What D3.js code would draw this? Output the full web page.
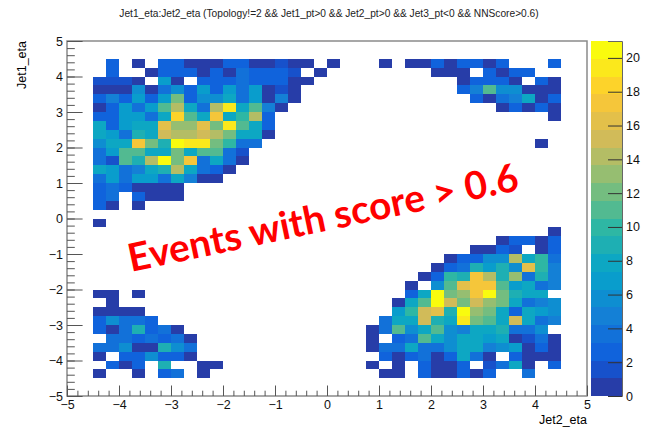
<!DOCTYPE html>
<html>
<head>
<meta charset="utf-8">
<script src="https://cdn.jsdelivr.net/npm/d3@7"></script>
<style>
body { margin: 0; background: #fff; }
text { font-family: "Liberation Sans", Arial, sans-serif; }
</style>
</head>
<body>
<div id="chart"></div>
<script>
var width = 654,
    height = 438;

// 40 x 40 bins, 0.25 wide, from -5 to 5 on both axes
// rows run from Jet1_eta = 5 (top) down to -5, columns from Jet2_eta = -5 to 5
// '.' = empty, 1..9, a = 10, b = 11 ... l = 21
var counts = [
    ".......... .......... .......... ..........",
    ".......... .......... .......... ..........",
    "...3.1.331 113311211. 1...1.1131 3313...3..",
    "...3..1333 13143332.1 ........11 1.3133....",
    "..2221.71. 333433311. .......... 13331.31..",
    "..11161463 73747121.. .......... 35b66111..",
    "..353737c3 66847151.. .......... .3145813..",
    "..13747be8 4ej8b51... .......... ...13131..",
    "..337748ib 8h8ae3.... .......... .......1..",
    "..83788gdd gcjb83.... .......... ..........",
    "..87498fee fec881.... .......... ..........",
    "..688hc9lj jca44..... .......... ......1...",
    "..47bb88c8 bb42...... .......... ..........",
    "..42b9ekch 4841...... .......... ..........",
    "..874589e8 431....... .......... ..........",
    "..47477485 11........ .......... ..........",
    "..3431111. .......... .......... ..........",
    "..34.3111. .......... .......... ..........",
    "..31.1.... .......... .......... ..........",
    ".......... .......... .......... ..........",
    "..1....... .......... .......... ..........",
    ".......... .......... .......... .......1..",
    ".......... .......... .......... ...13313..",
    ".......... .......... .......... .1132.13..",
    ".......... .......... .........1 3366e8a4..",
    ".......... .......... ........13 49796ga5..",
    ".......... .......... .......13a 9he9d495..",
    ".......... .......... ......1.6b ghhb7845..",
    "..11.1.... .......... ......38kc dhlc988...",
    "...1...... .......... .....18bkf cfdc8456..",
    "..1111.... .......... .....7afg9 kdc83876..",
    "..36443... .......... ....488f98 jcb8f845..",
    "..3149341. .......... ...14b68b6 5889446...",
    "...4434341 .......... ...1.34b86 88781241..",
    "..44611964 .......... ...1448446 88567131..",
    "..1.336331 .......... ....313413 841.3111..",
    "...313.9.. 11........ ...1.1.311 3.2481.3..",
    "..1..1.34. 1......... ....11.311 313..4....",
    ".......... .......... .......... ..........",
    ".......... .......... .......... .........."
];

var axisMin = -5,
    axisMax = 5,
    binWidth = 0.25,
    zMax = 21,
    nContours = 20;

var axisTicks = [-5, -4, -3, -2, -1, 0, 1, 2, 3, 4, 5];
var zTicks = [0, 2, 4, 6, 8, 10, 12, 14, 16, 18, 20];

// ROOT kBird palette
var birdStops = [0.0000, 0.1250, 0.2500, 0.3750, 0.5000, 0.6250, 0.7500, 0.8750, 1.0000];
var birdRed = [0.2082, 0.0592, 0.0780, 0.0232, 0.1802, 0.5301, 0.8186, 0.9956, 0.9764];
var birdGreen = [0.1664, 0.3599, 0.5041, 0.6419, 0.7178, 0.7492, 0.7328, 0.7862, 0.9832];
var birdBlue = [0.5293, 0.8684, 0.8385, 0.7914, 0.6425, 0.4662, 0.3499, 0.1968, 0.0539];

var titleText = "Jet1_eta:Jet2_eta (Topology!=2 && Jet1_pt>0 && Jet2_pt>0 && Jet3_pt<0 && NNScore>0.6)";

var frame = {left: 67, right: 587, top: 41, bottom: 396};

var svg = d3.select("#chart")
    .append("svg")
    .attr("width", width)
    .attr("height", height);

var x = d3.scaleLinear().domain([axisMin, axisMax]).range([frame.left, frame.right]);
var y = d3.scaleLinear().domain([axisMin, axisMax]).range([frame.bottom, frame.top]);
var z = d3.scaleLinear().domain([0, zMax]).range([frame.bottom, frame.top]);

var bird = d3.scaleLinear()
    .domain(birdStops)
    .range(birdStops.map(function (s, i) {
        return d3.rgb(birdRed[i] * 255, birdGreen[i] * 255, birdBlue[i] * 255);
    }));

var palette = d3.range(255).map(function (k) { return bird(k / 254); });

function levelColor(level) {
    var idx = Math.floor((level + 0.99) * 255 / nContours);
    return palette[Math.min(idx, 254)];
}

function binColor(v) {
    return levelColor(Math.floor(0.01 + v * nContours / zMax));
}

// decode the grid
var cells = [];
counts.forEach(function (row, r) {
    var chars = row.replace(/ /g, "");
    for (var c = 0; c < chars.length; c++) {
        if (chars[c] === ".") continue;
        var v = parseInt(chars[c], 36);
        cells.push({
            x0: axisMin + c * binWidth,
            y1: axisMax - r * binWidth,
            v: v
        });
    }
});

svg.append("text")
    .attr("x", 329)
    .attr("y", 17)
    .attr("text-anchor", "middle")
    .style("font-size", "10.2px")
    .attr("fill", "#222")
    .text(titleText);

var g = svg.append("g").attr("id", "hist");

g.selectAll("rect.bin")
    .data(cells)
    .enter()
    .append("rect")
    .attr("class", "bin")
    .attr("x", function (d) { return x(d.x0); })
    .attr("y", function (d) { return y(d.y1); })
    .attr("width", function (d) { return x(d.x0 + binWidth) - x(d.x0); })
    .attr("height", function (d) { return y(d.y1 - binWidth) - y(d.y1); })
    .attr("fill", function (d) { return binColor(d.v); })
    .attr("shape-rendering", "crispEdges");

// frame
svg.append("rect")
    .attr("x", frame.left)
    .attr("y", frame.top)
    .attr("width", frame.right - frame.left)
    .attr("height", frame.bottom - frame.top)
    .attr("fill", "none")
    .attr("stroke", "#8a8a8a")
    .attr("stroke-width", 1.5);

var fmt = function (d) { return d < 0 ? "\u2212" + (-d) : "" + d; };
var minorTicks = d3.range(-25, 26).map(function (k) { return k / 5; });

var xAxis = svg.append("g")
    .attr("transform", "translate(0," + frame.bottom + ")")
    .call(d3.axisBottom(x).tickValues(axisTicks).tickSize(-10.5).tickPadding(4).tickFormat(fmt));
var xMinor = svg.append("g")
    .attr("transform", "translate(0," + frame.bottom + ")")
    .call(d3.axisBottom(x).tickValues(minorTicks).tickSize(-5.3).tickFormat(""));

var yAxis = svg.append("g")
    .attr("transform", "translate(" + frame.left + ",0)")
    .call(d3.axisLeft(y).tickValues(axisTicks).tickSize(-15.6).tickPadding(4).tickFormat(fmt));
var yMinor = svg.append("g")
    .attr("transform", "translate(" + frame.left + ",0)")
    .call(d3.axisLeft(y).tickValues(minorTicks).tickSize(-7.8).tickFormat(""));

[xAxis, xMinor, yAxis, yMinor].forEach(function (a) {
    a.select(".domain").remove();
    a.selectAll(".tick line").attr("stroke", "#555");
    a.selectAll("text")
        .style("font-size", "12.5px")
        .attr("font-family", "Liberation Sans, Arial, sans-serif")
        .attr("fill", "#111");
});

svg.append("text")
    .attr("x", frame.right)
    .attr("y", 424)
    .attr("text-anchor", "end")
    .style("font-size", "12.5px")
    .text("Jet2_eta");

svg.append("text")
    .attr("transform", "translate(26," + frame.top + ") rotate(-90)")
    .attr("text-anchor", "end")
    .style("font-size", "12.5px")
    .text("Jet1_eta");

// palette
var pal = svg.append("g").attr("id", "palette");
var palX = 591,
    palW = 31;

pal.selectAll("rect")
    .data(d3.range(nContours))
    .enter()
    .append("rect")
    .attr("x", palX)
    .attr("width", palW)
    .attr("y", function (k) { return z((k + 1) * zMax / nContours); })
    .attr("height", function (k) { return z(k * zMax / nContours) - z((k + 1) * zMax / nContours); })
    .attr("fill", function (k) { return levelColor(k); })
    .attr("shape-rendering", "crispEdges");

var zAxis = svg.append("g")
    .attr("transform", "translate(" + (palX + palW) + ",0)")
    .call(d3.axisRight(z).tickValues(zTicks).tickSize(-14).tickPadding(4).tickFormat(fmt));
zAxis.select(".domain").attr("stroke", "#666");
zAxis.selectAll(".tick line").attr("stroke", "#333");
zAxis.selectAll("text")
    .style("font-size", "12.5px")
    .attr("font-family", "Liberation Sans, Arial, sans-serif")
    .attr("fill", "#111");

// overlay note
var note = svg.append("text")
    .attr("transform", "translate(131,272) rotate(-11.9)")
    .attr("fill", "#f00")
    .style("font-family", "Lato, 'Open Sans', sans-serif")
    .style("font-weight", "bold")
    .style("font-size", "36px")
    .text("Events with score > 0.6");
var len = note.node().getComputedTextLength();
note.style("font-size", (36 * 398 / len) + "px");
</script>
</body>
</html>
